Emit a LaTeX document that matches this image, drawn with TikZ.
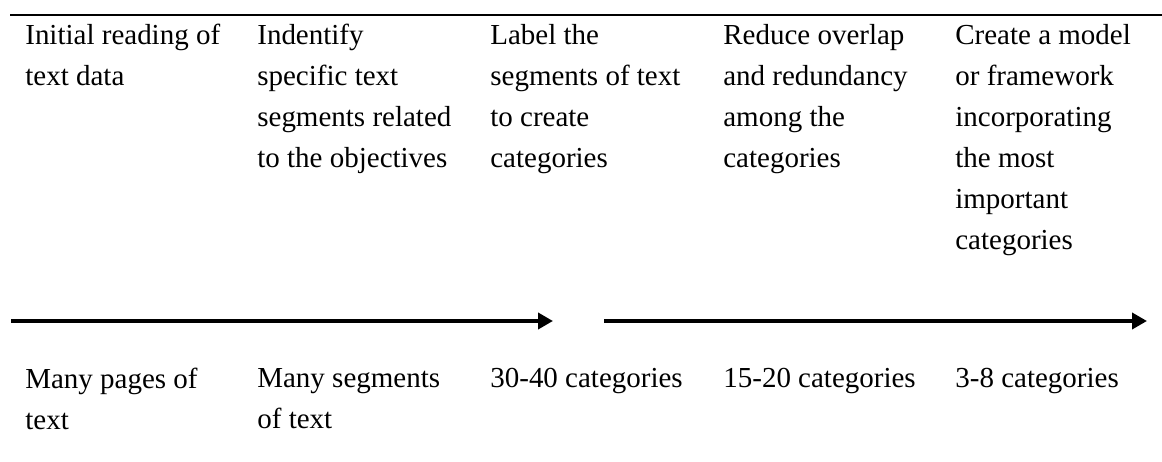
\documentclass[tikz,border=0pt]{standalone}
\usepackage{fontspec}
\setmainfont{Liberation Serif}
\usetikzlibrary{arrows.meta}
\begin{document}
\begin{tikzpicture}[x=0.02cm, y=-0.02cm,
        stage/.style={anchor=north west, inner sep=0pt, align=left, font=\fontsize{16.5}{23.3}\selectfont},
        flow/.style={line width=2.8pt, -{Triangle[length=0.3cm, width=0.32cm]}}]
        \useasboundingbox (0, 0) rectangle (1162, 462);
        \draw [line width=1.1pt] (10, 15) -- (1162, 15);

        \node[stage] (s1) at (25, 24) {Initial reading of\\text data};
        \node[stage] (s2) at (257, 24) {Indentify\\specific text\\segments related\\to the objectives};
        \node[stage] (s3) at (490, 24) {Label the\\segments of text\\to create\\categories};
        \node[stage] (s4) at (723, 24) {Reduce overlap\\and redundancy\\among the\\categories};
        \node[stage] (s5) at (955, 24) {Create a model\\or framework\\incorporating\\the most\\important\\categories};

        \node[stage] (r1) at (25, 368) {Many pages of\\text};
        \node[stage] (r2) at (257, 368) {Many segments\\of text};
        \node[stage] (r3) at (490, 368) {30-40 categories};
        \node[stage] (r4) at (723, 368) {15-20 categories};
        \node[stage] (r5) at (955, 368) {3-8 categories};

        \coordinate (a1) at (11, 321);
        \coordinate (a2) at (553, 321);
        \coordinate (a3) at (604, 321);
        \coordinate (a4) at (1147, 321);
        \draw [flow] (a1) -- (a2);
        \draw [flow] (a3) -- (a4);
    \end{tikzpicture}
\end{document}
